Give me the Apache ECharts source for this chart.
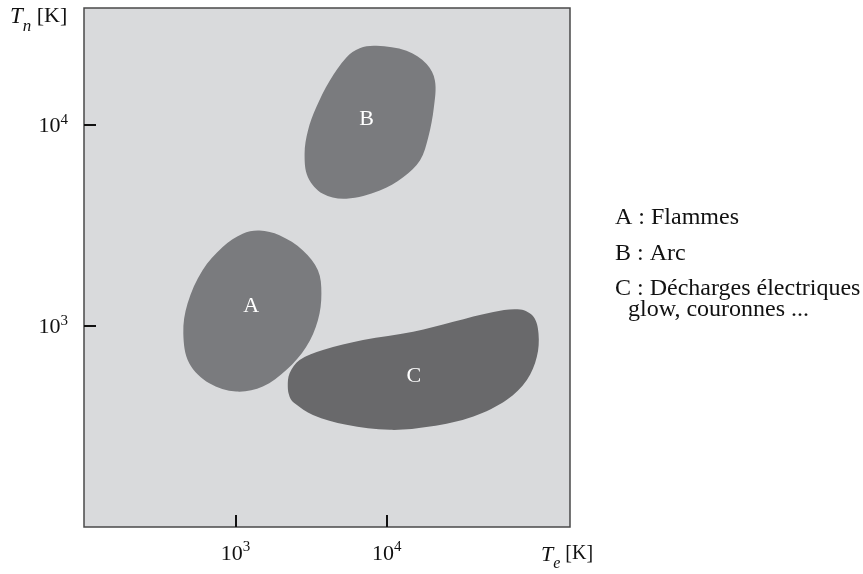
<!DOCTYPE html>
<html>
<head>
<meta charset="utf-8">
<script src="https://cdn.jsdelivr.net/npm/echarts@6/dist/echarts.min.js"></script>
<style>
html,body{margin:0;padding:0;background:#fff;}
#chart{width:863px;height:574px;}
</style>
</head>
<body>
<div id="chart"></div>
<script>
// Axis ranges in log10(T [K])
var xLogMin = 2, xLogMax = 5.21;
var yLogMin = 2, yLogMax = 4.58;
var xTickExponents = [3, 4];
var yTickExponents = [3, 4];

// Region outlines: [log10 Te, log10 Tn]
var regionA = [[3.159,3.474],[3.291,3.450],[3.446,3.375],[3.545,3.276],[3.568,3.161],[3.545,3.028],[3.468,2.896],[3.336,2.780],[3.181,2.698],[3.005,2.673],[2.828,2.714],[2.695,2.814],[2.656,2.962],[2.684,3.111],[2.783,3.276],[2.916,3.392],[3.048,3.458]];
var regionB = [[3.932,4.392],[4.130,4.367],[4.263,4.301],[4.318,4.218],[4.311,4.086],[4.274,3.937],[4.219,3.822],[4.108,3.739],[3.954,3.673],[3.733,3.632],[3.578,3.656],[3.479,3.739],[3.457,3.855],[3.479,3.970],[3.534,4.086],[3.623,4.218],[3.733,4.334],[3.821,4.380]];
var regionC = [[3.346,2.698],[3.358,2.764],[3.424,2.830],[3.578,2.880],[3.843,2.929],[4.174,2.970],[4.439,3.020],[4.704,3.069],[4.881,3.081],[4.969,3.045],[5.002,2.962],[4.991,2.846],[4.925,2.731],[4.793,2.632],[4.572,2.549],[4.285,2.499],[4.020,2.483],[3.733,2.508],[3.512,2.557],[3.391,2.615],[3.358,2.648]];
var regionNames = ['A', 'B', 'C'];
var regionLabelPos = [[3.104,3.098],[3.866,4.028],[4.179,2.751]];
var legendLines = ['A : Flammes', 'B : Arc', 'C : Décharges électriques', 'glow, couronnes ...'];

var SERIF = '"Liberation Serif","Times New Roman",serif';
var regionColors = ['#7a7b7e', '#7a7b7e', '#69696b'];
var regions = [regionA, regionB, regionC];

function makeRegionSeries(idx) {
  var pts = regions[idx];
  return {
    type: 'custom',
    name: regionNames[idx],
    coordinateSystem: 'cartesian2d',
    silent: true,
    data: pts,
    renderItem: function (params, api) {
      if (params.dataIndex !== 0) return null;
      var poly = pts.map(function (p) { return api.coord(p); });
      var lab = api.coord(regionLabelPos[idx]);
      return {
        type: 'group',
        children: [{
          type: 'polygon',
          shape: { points: poly, smooth: 0.35 },
          style: { fill: regionColors[idx], stroke: null }
        }, {
          type: 'text',
          x: lab[0], y: lab[1],
          style: {
            text: regionNames[idx], fill: '#ffffff',
            font: '22px ' + SERIF, align: 'center', verticalAlign: 'middle'
          }
        }]
      };
    }
  };
}

function expLabel(v) { return '{b|10}{s|' + v + '}'; }
var labelRich = {
  b: { fontSize: 22, fontFamily: SERIF, color: '#111', verticalAlign: 'bottom', lineHeight: 25 },
  s: { fontSize: 15, fontFamily: SERIF, color: '#111', verticalAlign: 'top', lineHeight: 15 }
};

var chart = echarts.init(document.getElementById('chart'), null, { renderer: 'canvas' });
var graphics = [];
var legendX = [615, 615, 615, 628];
var legendY = [218, 254, 289, 310];
legendLines.forEach(function (t, i) {
  graphics.push({
    type: 'text', x: legendX[i], y: legendY[i],
    style: { text: t, font: '24px ' + SERIF, fill: '#111', verticalAlign: 'middle' }
  });
});
graphics.push({
  type: 'text', left: 10, top: 5,
  style: {
    text: '{t|T}{n|n}{k| [K]}',
    rich: {
      t: { font: 'italic 23px ' + SERIF, fill: '#111', verticalAlign: 'top', lineHeight: 23 },
      n: { font: 'italic 17px ' + SERIF, fill: '#111', verticalAlign: 'bottom', lineHeight: 30 },
      k: { font: '22px ' + SERIF, fill: '#111', verticalAlign: 'top', lineHeight: 23 }
    }
  }
});
graphics.push({
  type: 'text', left: 541, top: 544,
  style: {
    text: '{t|T}{n|e}{k| [K]}',
    rich: {
      t: { font: 'italic 22px ' + SERIF, fill: '#111', verticalAlign: 'top', lineHeight: 22 },
      n: { font: 'italic 16px ' + SERIF, fill: '#111', verticalAlign: 'bottom', lineHeight: 28 },
      k: { font: '20px ' + SERIF, fill: '#111', verticalAlign: 'top', lineHeight: 22 }
    }
  }
});

chart.setOption({
  animation: false,
  backgroundColor: '#ffffff',
  grid: {
    left: 84, right: 293, top: 8, bottom: 47,
    show: true, backgroundColor: '#d9dadc', borderColor: '#4a4a4a', borderWidth: 1.5
  },
  xAxis: {
    type: 'value', min: xLogMin, max: xLogMax,
    axisLine: { show: false },
    splitLine: { show: false },
    axisTick: { show: true, inside: true, length: 12, customValues: xTickExponents, lineStyle: { color: '#111', width: 2 } },
    axisLabel: { show: true, margin: 13, customValues: xTickExponents, formatter: expLabel, rich: labelRich }
  },
  yAxis: {
    type: 'value', min: yLogMin, max: yLogMax,
    axisLine: { show: false },
    splitLine: { show: false },
    axisTick: { show: true, inside: true, length: 12, customValues: yTickExponents, lineStyle: { color: '#111', width: 2 } },
    axisLabel: { show: true, margin: 16, customValues: yTickExponents, formatter: expLabel, rich: labelRich }
  },
  graphic: graphics,
  series: [makeRegionSeries(0), makeRegionSeries(1), makeRegionSeries(2)]
});
</script>
</body>
</html>
